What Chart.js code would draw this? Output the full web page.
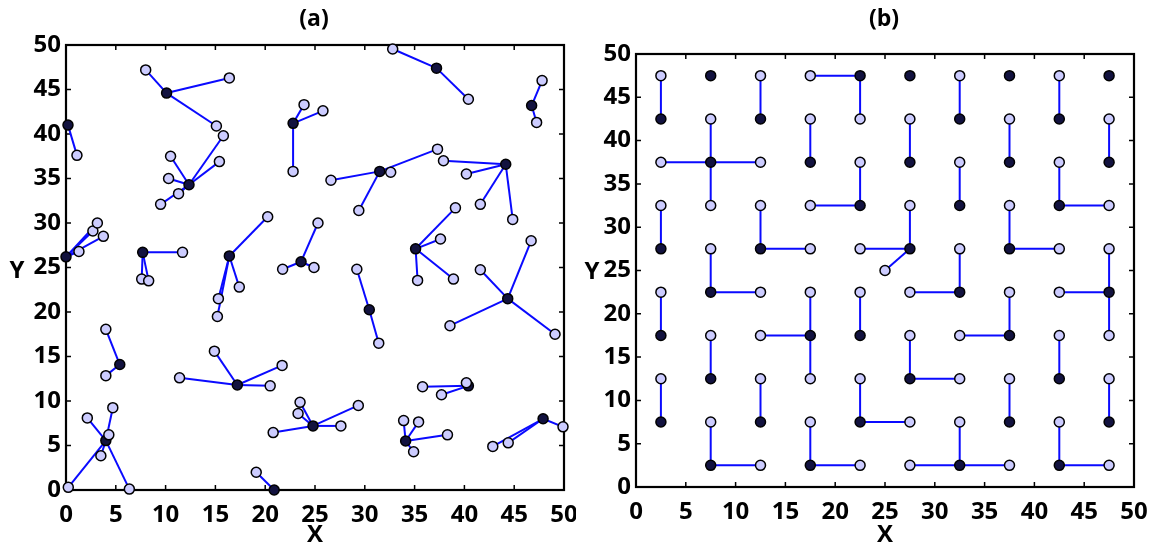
<!DOCTYPE html>
<html><head><meta charset="utf-8">
<script src="https://cdn.jsdelivr.net/npm/chart.js@4.4.1/dist/chart.umd.min.js"></script>
<style>
html,body{margin:0;padding:0;background:#fff;}
#wrap{position:relative;width:1153px;height:546px;overflow:hidden;background:#fff;}
canvas{position:absolute;top:0;}
</style></head><body>
<div id="wrap">
<canvas id="ca" width="576" height="546" style="left:0"></canvas>
<canvas id="cb" width="577" height="546" style="left:576px"></canvas>
</div>
<script>
// ---------- DATA ----------
const tickValues = [0, 5, 10, 15, 20, 25, 30, 35, 40, 45, 50];
const panelTitles = ['(a)', '(b)'];
const xTitle = 'X';
const yTitle = 'Y';

// panel (a): cluster heads (dark)
const aHeads = [
  [0.2, 41.0], [10.1, 44.6], [12.35, 34.3], [22.8, 41.2], [37.2, 47.4],
  [46.75, 43.2], [44.15, 36.6], [31.5, 35.8], [0.0, 26.2], [7.7, 26.7],
  [16.4, 26.3], [23.6, 25.65], [35.1, 27.1], [44.35, 21.5], [30.45, 20.25],
  [5.4, 14.1], [17.2, 11.8], [40.4, 11.7], [4.0, 5.55], [24.8, 7.2],
  [34.1, 5.5], [47.9, 8.0], [20.9, 0.0]
];
// panel (a): members [x, y, head index]
const aMembers = [
  [1.1, 37.6, 0],
  [8.0, 47.2, 1], [16.4, 46.3, 1], [15.1, 40.9, 1],
  [15.8, 39.8, 2], [15.4, 36.9, 2], [10.5, 37.5, 2], [10.3, 35.0, 2], [11.3, 33.3, 2], [9.5, 32.1, 2],
  [22.8, 35.8, 3], [23.9, 43.3, 3], [25.8, 42.6, 3],
  [32.8, 49.55, 4], [40.4, 43.9, 4],
  [47.8, 46.0, 5], [47.25, 41.3, 5],
  [37.9, 37.0, 6], [40.2, 35.5, 6], [41.6, 32.1, 6], [44.85, 30.4, 6],
  [37.3, 38.3, 7], [32.6, 35.7, 7], [26.6, 34.8, 7], [29.4, 31.4, 7],
  [1.3, 26.8, 8], [2.7, 29.1, 8], [3.15, 30.0, 8], [3.75, 28.5, 8],
  [11.7, 26.7, 9], [7.6, 23.7, 9], [8.3, 23.5, 9],
  [15.3, 21.5, 10], [15.2, 19.5, 10], [17.4, 22.8, 10], [20.25, 30.7, 10],
  [21.75, 24.8, 11], [24.9, 25.0, 11], [25.3, 30.0, 11],
  [37.6, 28.2, 12], [39.1, 31.7, 12], [35.3, 23.55, 12], [38.9, 23.7, 12],
  [41.6, 24.75, 13], [38.55, 18.46, 13], [49.1, 17.5, 13], [46.7, 28.0, 13],
  [29.2, 24.8, 14], [31.4, 16.5, 14],
  [4.0, 18.05, 15], [4.0, 12.85, 15],
  [14.9, 15.6, 16], [11.4, 12.6, 16], [20.5, 11.7, 16], [21.7, 14.0, 16],
  [35.8, 11.6, 17], [37.7, 10.7, 17], [40.2, 12.05, 17],
  [4.7, 9.25, 18], [2.14, 8.1, 18], [4.3, 6.2, 18], [3.5, 3.85, 18], [0.23, 0.3, 18], [6.36, 0.1, 18],
  [23.5, 9.85, 19], [23.3, 8.6, 19], [20.8, 6.45, 19], [27.6, 7.2, 19], [29.35, 9.5, 19],
  [33.9, 7.8, 20], [35.4, 7.65, 20], [38.3, 6.2, 20], [34.9, 4.3, 20],
  [42.85, 4.9, 21], [44.4, 5.3, 21], [49.9, 7.1, 21],
  [19.1, 2.0, 22]
];

// panel (b): cluster heads (dark)
const bHeads = [
  [7.5, 47.5], [22.5, 47.5], [27.5, 47.5], [37.5, 47.5], [47.5, 47.5],
  [2.5, 42.5], [12.5, 42.5], [32.5, 42.5], [42.5, 42.5],
  [7.5, 37.5], [17.5, 37.5], [27.5, 37.5], [37.5, 37.5], [47.5, 37.5],
  [22.5, 32.5], [32.5, 32.5], [42.5, 32.5],
  [2.5, 27.5], [12.5, 27.5], [27.5, 27.5], [37.5, 27.5],
  [7.5, 22.5], [32.5, 22.5], [47.5, 22.5],
  [2.5, 17.5], [17.5, 17.5], [22.5, 17.5], [37.5, 17.5],
  [7.5, 12.5], [27.5, 12.5], [42.5, 12.5],
  [2.5, 7.5], [12.5, 7.5], [22.5, 7.5], [37.5, 7.5], [47.5, 7.5],
  [7.5, 2.5], [17.5, 2.5], [32.5, 2.5], [42.5, 2.5]
];
// panel (b): members [x, y, head index]
const bMembers = [
  [2.5, 47.5, 5], [12.5, 47.5, 6], [17.5, 47.5, 1], [32.5, 47.5, 7], [42.5, 47.5, 8],
  [7.5, 42.5, 9], [17.5, 42.5, 10], [22.5, 42.5, 1], [27.5, 42.5, 11], [37.5, 42.5, 12], [47.5, 42.5, 13],
  [2.5, 37.5, 9], [12.5, 37.5, 9], [22.5, 37.5, 14], [32.5, 37.5, 15], [42.5, 37.5, 16],
  [2.5, 32.5, 17], [7.5, 32.5, 9], [12.5, 32.5, 18], [17.5, 32.5, 14], [27.5, 32.5, 19], [37.5, 32.5, 20], [47.5, 32.5, 16],
  [7.5, 27.5, 21], [17.5, 27.5, 18], [22.5, 27.5, 19], [32.5, 27.5, 22], [42.5, 27.5, 20], [47.5, 27.5, 23],
  [25.0, 25.0, 19],
  [2.5, 22.5, 24], [12.5, 22.5, 21], [17.5, 22.5, 25], [22.5, 22.5, 26], [27.5, 22.5, 22], [37.5, 22.5, 27], [42.5, 22.5, 23],
  [7.5, 17.5, 28], [12.5, 17.5, 25], [27.5, 17.5, 29], [32.5, 17.5, 27], [42.5, 17.5, 30], [47.5, 17.5, 23],
  [2.5, 12.5, 31], [12.5, 12.5, 32], [17.5, 12.5, 25], [22.5, 12.5, 33], [32.5, 12.5, 29], [37.5, 12.5, 34], [47.5, 12.5, 35],
  [7.5, 7.5, 36], [17.5, 7.5, 37], [27.5, 7.5, 33], [32.5, 7.5, 38], [42.5, 7.5, 39],
  [12.5, 2.5, 36], [22.5, 2.5, 37], [27.5, 2.5, 38], [37.5, 2.5, 38], [47.5, 2.5, 39]
];

// ---------- STYLE ----------
const lightFill = '#ccccff';
const darkFill = '#12123f';
const lineColor = '#0a0aff';
const FONT = '"Open Sans", "DejaVu Sans", sans-serif';

const framePlugin = {
  id: 'frame',
  beforeDatasetsDraw(chart) {
    const ctx = chart.ctx, a = chart.chartArea, xs = chart.scales.x, ys = chart.scales.y;
    ctx.save();
    ctx.strokeStyle = '#000';
    ctx.lineWidth = 1.5;
    ctx.beginPath();
    xs.ticks.forEach(t => {
      const p = xs.getPixelForValue(t.value);
      ctx.moveTo(p, a.bottom); ctx.lineTo(p, a.bottom - 5);
      ctx.moveTo(p, a.top); ctx.lineTo(p, a.top + 5);
    });
    ys.ticks.forEach(t => {
      const p = ys.getPixelForValue(t.value);
      ctx.moveTo(a.left, p); ctx.lineTo(a.left + 5, p);
      ctx.moveTo(a.right, p); ctx.lineTo(a.right - 5, p);
    });
    ctx.stroke();
    ctx.lineWidth = 2.2;
    ctx.strokeRect(a.left, a.top, a.right - a.left, a.bottom - a.top);
    ctx.restore();
  }
};

function textPlugin(L) {
  return {
    id: 'texts',
    afterDraw(chart) {
      const ctx = chart.ctx, a = chart.chartArea;
      const cx = (a.left + a.right) / 2;
      ctx.save();
      ctx.fillStyle = '#000';
      ctx.textAlign = 'center';
      ctx.textBaseline = 'middle';
      ctx.font = 'bold 23px ' + FONT;
      ctx.fillText(L.title, cx - 1, L.titleY);
      ctx.font = 'bold 24px ' + FONT;
      ctx.fillText(xTitle, cx, L.xLabelY);
      ctx.fillText(yTitle, L.yLabelX, L.yLabelY);
      ctx.restore();
    }
  };
}

function makeChart(id, heads, members, L) {
  const edges = members.map(m => ({
    data: [{x: heads[m[2]][0], y: heads[m[2]][1]}, {x: m[0], y: m[1]}],
    showLine: true, borderColor: lineColor, borderWidth: 2,
    pointRadius: 0, pointHoverRadius: 0, order: 2, clip: false
  }));
  const datasets = [
    {data: members.map(m => ({x: m[0], y: m[1]})), showLine: false, pointRadius: 5, pointHoverRadius: 5,
     backgroundColor: lightFill, pointBackgroundColor: lightFill, borderColor: '#000', pointBorderColor: '#000',
     pointBorderWidth: 1.5, order: 0, clip: false},
    {data: heads.map(h => ({x: h[0], y: h[1]})), showLine: false, pointRadius: 5, pointHoverRadius: 5,
     backgroundColor: darkFill, pointBackgroundColor: darkFill, borderColor: '#000', pointBorderColor: '#000',
     pointBorderWidth: 1.5, order: 1, clip: false}
  ].concat(edges);
  const tickFont = {family: FONT, size: 24, weight: 'bold'};
  return new Chart(document.getElementById(id), {
    type: 'scatter',
    data: {datasets},
    options: {
      responsive: false, animation: false, devicePixelRatio: 1, events: [],
      layout: {padding: {left: 0, right: L.padRight, top: L.top, bottom: 0}},
      plugins: {legend: {display: false}, tooltip: {enabled: false}, title: {display: false}},
      scales: {
        x: {
          type: 'linear', position: 'bottom', min: 0, max: 50,
          grid: {display: false, drawTicks: false}, border: {display: false},
          ticks: {font: tickFont, color: '#000', padding: 11, maxRotation: 0, autoSkip: false},
          afterBuildTicks: s => { s.ticks = tickValues.map(v => ({value: v})); },
          afterFit: s => { s.height = L.xh; s.paddingLeft = 0; s.paddingRight = 0; }
        },
        y: {
          type: 'linear', position: 'left', min: 0, max: 50,
          grid: {display: false, drawTicks: false}, border: {display: false},
          ticks: {font: tickFont, color: '#000', padding: 5, autoSkip: false},
          afterBuildTicks: s => { s.ticks = tickValues.map(v => ({value: v})); },
          afterFit: s => { s.width = L.yw; s.paddingTop = 0; s.paddingBottom = 0; }
        }
      }
    },
    plugins: [framePlugin, textPlugin(L)]
  });
}

function draw() {
  makeChart('ca', aHeads, aMembers, {
    title: panelTitles[0], titleY: 19, xLabelY: 535, yLabelX: 17, yLabelY: 271,
    top: 45, padRight: 12, xh: 56, yw: 66
  });
  makeChart('cb', bHeads, bMembers, {
    title: panelTitles[1], titleY: 19, xLabelY: 535, yLabelX: 16, yLabelY: 272,
    top: 54, padRight: 19, xh: 59, yw: 60
  });
}
if (document.fonts && document.fonts.load) {
  Promise.all([document.fonts.load('bold 24px "Open Sans"'), document.fonts.load('bold 23px "Open Sans"')])
    .then(draw, draw);
} else { draw(); }
</script>
</body></html>
